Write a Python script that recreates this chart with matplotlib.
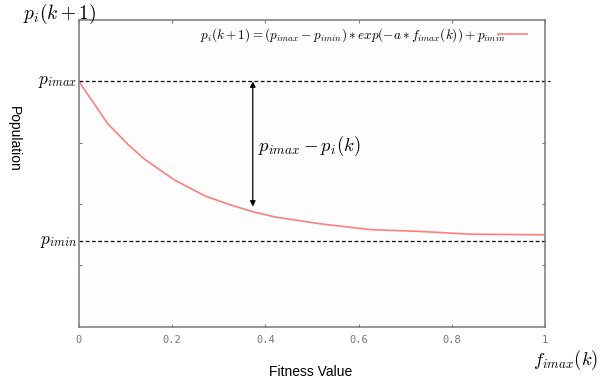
import matplotlib
matplotlib.use("Agg")
import matplotlib.pyplot as plt
from matplotlib.transforms import blended_transform_factory

plt.rcParams['mathtext.fontset'] = 'cm'

# data
fitness = [0.0, 0.062, 0.105, 0.142, 0.206, 0.270, 0.320, 0.371, 0.421, 0.517, 0.624, 0.732, 0.839, 1.0]
population = [0.800, 0.662, 0.595, 0.545, 0.478, 0.427, 0.400, 0.376, 0.358, 0.336, 0.317, 0.311, 0.302, 0.300]
p_max = 0.80
p_min = 0.28
arrow_x = 0.373
arrow_bottom = 0.392
xticks = [0, 0.2, 0.4, 0.6, 0.8, 1.0]
xticklabels = ["0", "0.2", "0.4", "0.6", "0.8", "1"]
yticks = [0.2, 0.4, 0.6, 0.8]

fig = plt.figure(figsize=(6.16, 3.85), dpi=100)
ax = fig.add_axes([0.128, 0.151, 0.757, 0.797])
ax.set_facecolor('#fdfdfd')
ax.set_xlim(0, 1)
ax.set_ylim(0, 1)

for s in ax.spines.values():
    s.set_color('#7a7a7a')
    s.set_linewidth(1.1)

ax.plot(fitness, population, color='#ff7f7f', lw=1.2,
        label=r'$p_i(k+1)=(p_{imax}-p_{imin})*exp(-a*f_{imax}(k))+p_{imin}$')

ax.plot([0, 1.01], [p_max, p_max], ls=(0, (3, 2)), color='black', lw=0.9, clip_on=False)
ax.plot([0, 1.005], [p_min, p_min], ls=(0, (3, 2)), color='black', lw=0.9, clip_on=False)

ax.annotate('', xy=(arrow_x, arrow_bottom), xytext=(arrow_x, p_max),
            arrowprops=dict(arrowstyle='<|-|>', color='black', lw=0.9,
                            mutation_scale=8, shrinkA=0, shrinkB=0))
ax.text(arrow_x + 0.012, 0.59, r'$p_{imax}-p_i(k)$', fontsize=13.5, va='center', ha='left')

ax.set_xticks(xticks)
ax.set_xticklabels(xticklabels, family='DejaVu Sans Mono', color='#777777', fontsize=7.5)
ax.set_yticks(yticks)
ax.set_yticklabels([])
ax.tick_params(axis='both', direction='in', length=2.5, color='#7a7a7a', top=True, right=True, pad=6)

leg = ax.legend(loc='upper right', frameon=False, markerfirst=False, fontsize=9.5,
                handlelength=2.2, handletextpad=-0.6, borderaxespad=0.1,
                bbox_to_anchor=(0.975, 1.0))

trans = blended_transform_factory(ax.transAxes, ax.transData)
ax.text(-0.003, p_max, r'$p_{imax}$', transform=trans, ha='right', va='center', fontsize=12.5)
ax.text(-0.003, p_min, r'$p_{imin}$', transform=trans, ha='right', va='center', fontsize=12.5)

fig.text(0.037, 0.964, r'$p_i(k+1)$', fontsize=14, ha='left', va='center')
fig.text(0.865, 0.097, r'$f_{imax}(k)$', fontsize=13.5, ha='left', va='top')
fig.text(0.505, 0.033, 'Fitness Value', family='Liberation Sans', fontsize=10, ha='center', va='center')
fig.text(0.023, 0.64, 'Population', family='Liberation Sans', fontsize=10, ha='center', va='center',
         rotation=-90)

fig.savefig('out.png', dpi=100)
